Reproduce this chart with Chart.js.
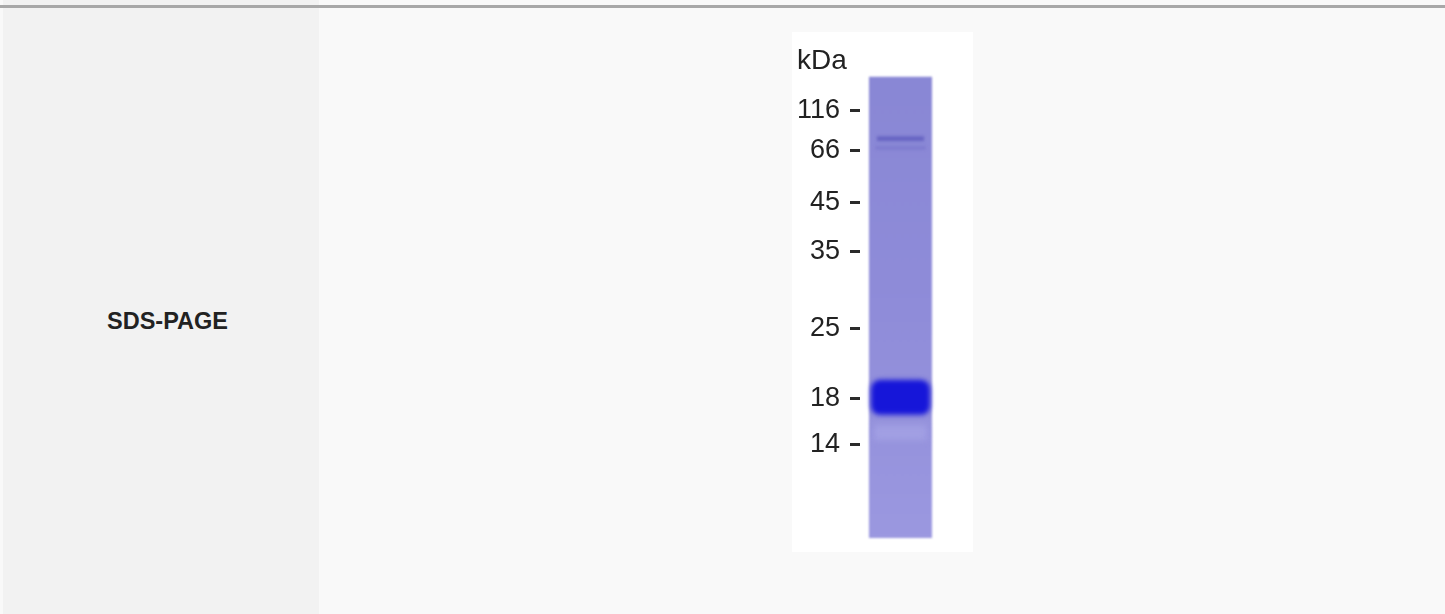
<!DOCTYPE html>
<html>
<head>
<meta charset="utf-8">
<title>SDS-PAGE</title>
<script src="https://cdn.jsdelivr.net/npm/chart.js@4.4.1/dist/chart.umd.min.js"></script>
<style>
  html, body { margin: 0; padding: 0; }
  body { width: 1445px; height: 614px; background: #f9f9f9; position: relative; overflow: hidden; font-family: "Liberation Sans", Arial, sans-serif; }
  .left { position: absolute; left: 3px; top: 0; width: 316px; height: 614px; background: #f2f2f2; }
  .rule { position: absolute; left: 0; top: 5px; width: 1445px; height: 3px; background: #a8a8a8; }
  .label { position: absolute; left: 107px; top: 308px; font-weight: bold; font-size: 23.5px; color: #222; }
  .gel { position: absolute; left: 792px; top: 32px; width: 181px; height: 520px; }
</style>
</head>
<body>
<div class="left"></div>
<div class="rule"></div>
<div class="label">SDS-PAGE</div>
<div class="gel"><canvas id="gelChart"></canvas></div>
<script>
// marker ladder (kDa) and where each runs, as % of lane length from the well
var lanes = ['Sample'];
var markerKda = ['116', '66', '45', '35', '25', '18', '14'];
var markerPos = [7.3, 16.0, 27.3, 37.8, 54.6, 69.8, 79.8];

// sample lane bands, [start, end] in the same units
var laneSpan = [0, 100];
var mainBand = [65.7, 73.3];
var highBand = [12.9, 13.9];
var highBand2 = [15.1, 15.7];
var smear = [75.5, 78.8];

var softEdges = {
  id: 'softEdges',
  beforeDatasetDraw: function (chart, args) {
    var b = chart.data.datasets[args.index].blur;
    if (b) chart.ctx.filter = 'blur(' + b + 'px)';
  },
  afterDatasetDraw: function (chart) {
    chart.ctx.filter = 'none';
  }
};

var whiteBg = {
  id: 'whiteBg',
  beforeDraw: function (chart) {
    var ctx = chart.ctx;
    ctx.save();
    ctx.fillStyle = '#ffffff';
    ctx.fillRect(0, 0, chart.width, chart.height);
    ctx.restore();
  }
};

var ctx = document.getElementById('gelChart');
new Chart(ctx, {
  type: 'bar',
  data: {
    labels: lanes,
    datasets: [{
      label: '18 kDa band',
      data: [mainBand],
      backgroundColor: '#1616d9',
      borderRadius: 9,
      borderSkipped: false,
      barPercentage: 0.73,
      blur: 2.5,
      clip: false
    },
    {
      label: 'high band',
      data: [highBand],
      backgroundColor: 'rgba(84,82,185,0.65)',
      barPercentage: 0.58,
      blur: 1.8,
      clip: false
    },
    {
      label: 'high band 2',
      data: [highBand2],
      backgroundColor: 'rgba(104,102,195,0.45)',
      barPercentage: 0.62,
      blur: 1.5,
      clip: false
    },
    {
      label: 'smear',
      data: [smear],
      backgroundColor: 'rgba(170,168,232,0.6)',
      barPercentage: 0.65,
      blur: 3,
      clip: false
    },
    {
      label: 'Lane',
      data: [laneSpan],
      backgroundColor: function (c) {
        var a = c.chart.chartArea;
        if (!a) return '#908ed9';
        var g = c.chart.ctx.createLinearGradient(0, a.top, 0, a.bottom);
        g.addColorStop(0, '#8987d5');
        g.addColorStop(0.5, '#8f8cd9');
        g.addColorStop(1, '#9b98e0');
        return g;
      },
      barPercentage: 0.778,
      blur: 0.8,
      clip: false
    }]
  },
  options: {
    responsive: true,
    maintainAspectRatio: false,
    animation: false,
    datasets: {
      bar: { grouped: false, categoryPercentage: 1 }
    },
    layout: {
      padding: { left: 5, right: 32, top: 0, bottom: 14 }
    },
    plugins: {
      legend: { display: false },
      tooltip: { enabled: false },
      title: {
        display: true,
        text: 'kDa',
        align: 'start',
        color: '#222',
        font: { family: 'Liberation Sans', size: 28, weight: 'normal', lineHeight: 1.1 },
        padding: { top: 14, bottom: 0 }
      }
    },
    scales: {
      x: {
        display: false
      },
      y: {
        type: 'linear',
        reverse: true,
        min: 0,
        max: 100,
        afterBuildTicks: function (s) {
          s.ticks = markerPos.map(function (v) { return { value: v }; });
        },
        afterFit: function (s) {
          s.width = 63;
          s.paddingTop = 0;
          s.paddingBottom = 0;
        },
        border: { display: false },
        grid: {
          drawOnChartArea: false,
          drawTicks: true,
          tickLength: 10,
          tickWidth: 3,
          tickColor: '#2a2a2a'
        },
        ticks: {
          autoSkip: false,
          padding: 10,
          color: '#222',
          font: { family: 'Liberation Sans', size: 27 },
          callback: function (v, i) { return markerKda[i]; }
        }
      }
    }
  },
  plugins: [whiteBg, softEdges]
});
</script>
</body>
</html>
